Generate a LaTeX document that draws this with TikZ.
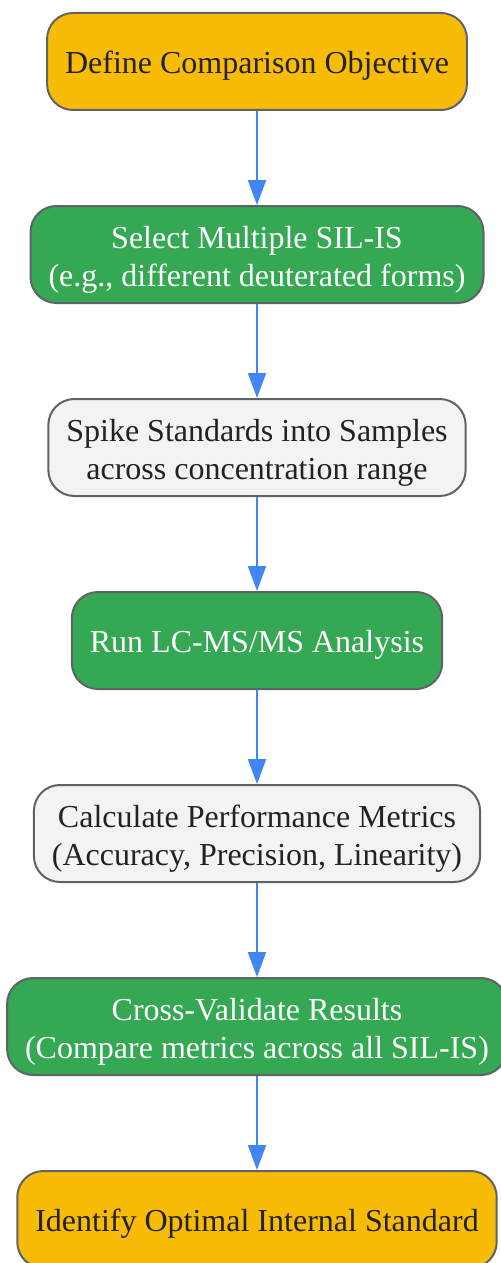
\documentclass[tikz,border=0pt]{standalone}
\usepackage{fontspec}
\setmainfont{Liberation Serif}
\usetikzlibrary{arrows.meta, positioning}
\definecolor{stepyellow}{HTML}{F9BC06}
\definecolor{stepgreen}{HTML}{34A853}
\definecolor{stepgray}{HTML}{F1F3F4}
\definecolor{stepborder}{HTML}{5F6368}
\definecolor{steptext}{HTML}{222222}
\definecolor{arrowblue}{HTML}{4285F4}

\begin{document}
\begin{tikzpicture}[node distance=47pt, font=\fontsize{16pt}{19pt}\selectfont]
        \tikzset{
        lift/.style    = {execute at begin node={\rule{0pt}{#1}}},
        block/.style   = {draw=stepborder, line width=1pt, rectangle, rounded corners=13pt, minimum height=48.5pt, inner xsep=9pt, align=center, text=steptext, lift=15pt},
        twoline/.style = {lift=35pt},
        startend/.style= {block, fill=stepyellow},
        action/.style  = {block, fill=stepgreen, text=white},
        plain/.style   = {block, fill=stepgray},
        line/.style    = {arrowblue, line width=1pt, -{Triangle[length=12.5pt, width=9pt]}}
        }
        \useasboundingbox (0,0) rectangle (250.5pt,-631.5pt);

        % Workflow steps
        \node[startend] (objective) at (128.5pt,-30.75pt) {Define Comparison Objective};
        \node[action, twoline, below=of objective] (select) {Select Multiple SIL-IS\\(e.g., different deuterated forms)};
        \node[plain, twoline, below=of select] (spike) {Spike Standards into Samples\\across concentration range};
        \node[action, below=of spike] (run) {Run LC-MS/MS Analysis};
        \node[plain, twoline, below=of run] (metrics) {Calculate Performance Metrics\\(Accuracy, Precision, Linearity)};
        \node[action, twoline, below=of metrics] (crossval) {Cross-Validate Results\\(Compare metrics across all SIL-IS)};
        \node[startend, below=of crossval] (optimal) {Identify Optimal Internal Standard};

        % Connections
        \draw[line] (objective) -- (select);
        \draw[line] (select) -- (spike);
        \draw[line] (spike) -- (run);
        \draw[line] (run) -- (metrics);
        \draw[line] (metrics) -- (crossval);
        \draw[line] (crossval) -- (optimal);
    \end{tikzpicture}
\end{document}
